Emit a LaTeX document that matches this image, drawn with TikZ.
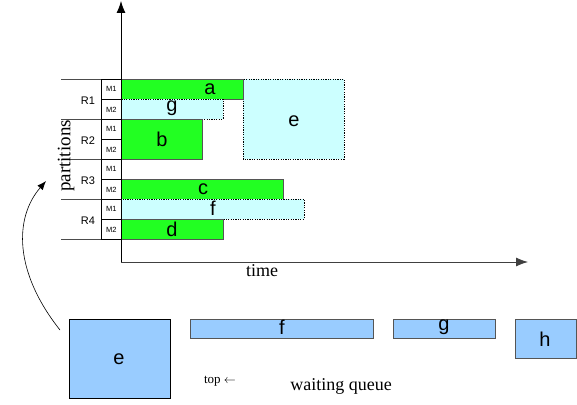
\documentclass[tikz,border=0pt]{standalone}
\usepackage{fontspec}
\setmainfont{Liberation Serif}
\newfontfamily\boxfont{Liberation Sans}
\usepackage{tikz}
\usetikzlibrary{arrows.meta,positioning,calc}
\definecolor{busy}{HTML}{22FF22}
\definecolor{planned}{HTML}{CCFFFF}
\definecolor{queued}{HTML}{99CCFF}
\definecolor{edge}{HTML}{555555}

\begin{document}
\begin{tikzpicture}[
    x=1pt, y=-1pt,
    bar/.style={draw=edge, fill=busy, line width=0.8pt},
    plan/.style={draw=black, fill=planned, dashed, dash pattern=on 1.2pt off 1.2pt, line width=0.6pt},
    job/.style={draw=edge, fill=queued, line width=0.8pt},
    joblabel/.style={font=\boxfont\fontsize{20}{20}\selectfont, inner sep=0pt},
    mcell/.style={draw=black, line width=0.8pt, minimum width=20pt, minimum height=20pt, inner sep=0pt, font=\boxfont\fontsize{7.5}{7.5}\selectfont},
    rlabel/.style={font=\boxfont\fontsize{11}{11}\selectfont, inner sep=0pt},
    caption/.style={font=\fontsize{18}{18}\selectfont, inner sep=0pt}
  ]
    \useasboundingbox (0,0) rectangle (577,404);
    % partitions and machine slots
    \foreach \r in {0,...,7}
      \node[mcell, anchor=north west] (m\r) at (101,{79+20*\r}) {\ifodd\r M2\else M1\fi};
    \foreach \y in {79,119,159,199,239}
      \draw[black!70, line width=0.8pt] (61,\y) -- (101,\y);
    \foreach \i/\y in {1/101,2/141,3/181,4/221}
      \node[rlabel] (r\i) at (88,\y) {R\i};
    \node[caption, rotate=90, font=\fontsize{19}{19}\selectfont] (part) at (66,156) {partitions};
    % scheduled jobs
    \draw[plan] (243,79) rectangle (344,159);
    \node[joblabel] (e) at (294,121) {e};
    \draw[bar] (121,79) rectangle (243,99);
    \draw[plan] (121,99) rectangle (223,119);
    \draw[bar] (121,119) rectangle (202,159);
    \draw[bar] (121,179) rectangle (283,199);
    \draw[plan] (121,199) rectangle (304,219);
    \draw[bar] (121,219) rectangle (223,239);
    \node[joblabel] (a) at (210,89) {a};
    \node[joblabel] (g) at (172,108) {g};
    \node[joblabel] (b) at (162,139) {b};
    \node[joblabel] (c) at (203,189) {c};
    \node[joblabel] (f) at (213,208) {f};
    \node[joblabel] (d) at (172,229) {d};
    % axes
    \coordinate (origin) at (121,262);
    \coordinate (ytop) at (121,1);
    \coordinate (xend) at (528,262);
    \draw[-{Latex[length=12pt,width=9pt]}, line width=0.8pt] (origin) -- (ytop);
    \draw[-{Latex[length=12pt,width=9pt]}, line width=0.8pt, black!75] (origin) -- (xend);
    \node[caption] (time) at (262,271) {time};
    % waiting queue
    \draw[job, draw=black] (69,319) rectangle (170,398);
    \node[joblabel] (qe) at (119,359) {e};
    \draw[job] (190,319) rectangle (373,338);
    \node[joblabel] (qf) at (282,327) {f};
    \draw[job] (393,319) rectangle (495,338);
    \node[joblabel] (qg) at (444,327) {g};
    \draw[job] (515,319) rectangle (576,358);
    \node[joblabel] (qh) at (545,339) {h};
    \node[font=\fontsize{13}{13}\selectfont, inner sep=0pt] (top) at (220,381) {top $\leftarrow$};
    \node[caption] (queue) at (341,386) {waiting queue};
    \coordinate (qstart) at (60,330);
    \coordinate (qtip) at (46,181);
    \draw[-{Latex[length=9pt,width=7pt]}, line width=0.6pt] (qstart) .. controls (14,272) and (14,218) .. (qtip);
  \end{tikzpicture}
\end{document}
